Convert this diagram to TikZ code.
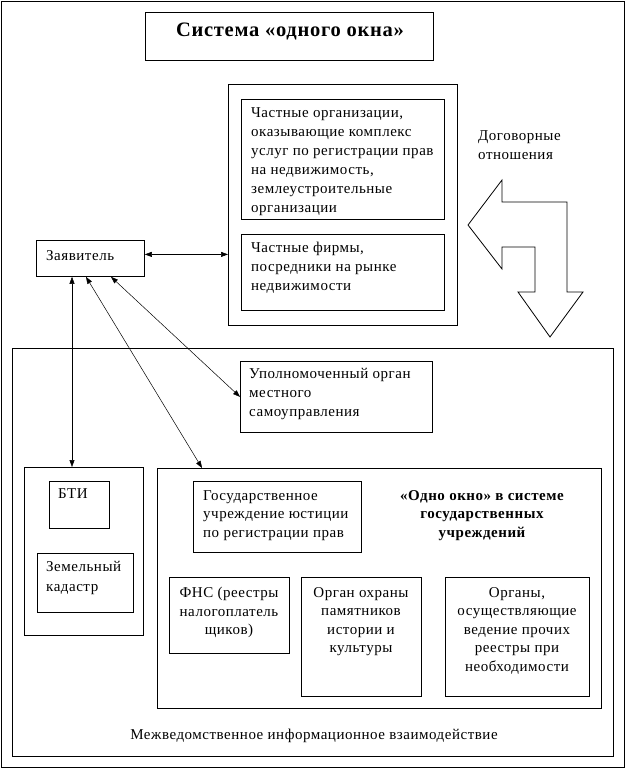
\documentclass[tikz,border=0pt]{standalone}
\usepackage{fontspec}
\setmainfont{Liberation Serif}[LetterSpace=3.5]
\usetikzlibrary{arrows.meta}

\tikzset{
  box/.style={draw, line width=0.8pt, anchor=north west, inner sep=0pt},
  txt/.style={anchor=north west, align=left, inner sep=0pt, font=\fontsize{15}{19}\selectfont},
  ctxt/.style={anchor=north, align=center, inner sep=0pt, font=\fontsize{15}{18.5}\selectfont},
  link/.style={line width=0.5pt, {Triangle[length=7pt,width=5pt]}-{Triangle[length=7pt,width=5pt]}},
}

\begin{document}
\begin{tikzpicture}[x=1pt,y=-1pt]
  \useasboundingbox (0,0) rectangle (626,770);
  \draw[line width=1pt] (1,2) rectangle (624,767);

  % title
  \node[box, minimum width=288pt, minimum height=48pt] (title) at (145,12) {};
  \node[inner sep=0pt, font=\bfseries\fontsize{20.5}{24}\selectfont] (titletext) at (290,31) {Система «одного окна»};

  % private sector
  \node[box, minimum width=229pt, minimum height=241pt] (priv) at (228,84) {};
  \node[box, minimum width=203pt, minimum height=120pt] (org) at (241,99) {};
  \node[txt] (orgtext) at (251,107) {Частные организации,\\оказывающие комплекс\\услуг по регистрации прав\\на недвижимость,\\землеустроительные\\организации};
  \node[box, minimum width=203pt, minimum height=76pt] (firm) at (241,234) {};
  \node[txt] (firmtext) at (251,242) {Частные фирмы,\\посредники на рынке\\недвижимости};

  % contract arrow
  \node[txt] (contract) at (478,130) {Договорные\\отношения};
  \draw[line width=0.8pt] (468,225) -- (502,180) -- (502,202) -- (567,202) -- (567,292)
    -- (583,292) -- (550,337) -- (518,292) -- (535,292) -- (535,247) -- (502,247)
    -- (502,269) -- cycle;

  % applicant
  \node[box, minimum width=108pt, minimum height=36pt] (zv) at (36,240) {};
  \node[txt] (zvtext) at (46,250) {Заявитель};

  % state sector
  \node[box, minimum width=601pt, minimum height=408pt] (state) at (12,348) {};
  \node[box, minimum width=192pt, minimum height=71pt] (upr) at (240,361) {};
  \node[txt] (uprtext) at (249,368) {Уполномоченный орган\\местного\\самоуправления};

  \node[box, minimum width=119pt, minimum height=168pt] (btig) at (24,467) {};
  \node[box, minimum width=60pt, minimum height=47pt] (bti) at (49,481) {};
  \node[txt] (btitext) at (58,488) {БТИ};
  \node[box, minimum width=96pt, minimum height=59pt] (kad) at (37,553) {};
  \node[txt, font=\fontsize{15}{20}\selectfont] (kadtext) at (46,561) {Земельный\\кадастр};

  \node[box, minimum width=444pt, minimum height=240pt] (gov) at (157,468) {};
  \node[box, minimum width=168pt, minimum height=71pt] (just) at (193,481) {};
  \node[txt, font=\fontsize{15}{18.5}\selectfont] (justtext) at (203,490) {Государственное\\учреждение юстиции\\по регистрации прав};
  \node[ctxt, font=\bfseries\fontsize{15}{18.5}\selectfont] (window) at (482,490) {«Одно окно» в системе\\государственных\\учреждений};

  \node[box, minimum width=120pt, minimum height=76pt] (fns) at (169,577) {};
  \node[ctxt] (fnstext) at (229,587) {ФНС (реестры\\налогоплатель\\щиков)};
  \node[box, minimum width=120pt, minimum height=119pt] (okh) at (301,577) {};
  \node[ctxt] (okhtext) at (361,587) {Орган охраны\\памятников\\истории и\\культуры};
  \node[box, minimum width=144pt, minimum height=119pt] (reg) at (445,577) {};
  \node[ctxt] (regtext) at (517,587) {Органы,\\осуществляющие\\ведение прочих\\реестры при\\необходимости};

  \node[inner sep=0pt, font=\fontsize{15}{19}\selectfont] (inter) at (314,736) {Межведомственное информационное взаимодействие};

  % links
  \draw[link] ([yshift=4pt]zv.east) -- ([yshift=4pt]zv.east -| priv.west);
  \draw[link] ([xshift=36pt]zv.south west) -- ([xshift=36pt]zv.south west |- btig.north);
  \draw[link] ([xshift=50pt]zv.south west) -- ([xshift=45pt]gov.north west);
  \draw[link] ([xshift=75pt]zv.south west) -- (upr.west);
\end{tikzpicture}
\end{document}
